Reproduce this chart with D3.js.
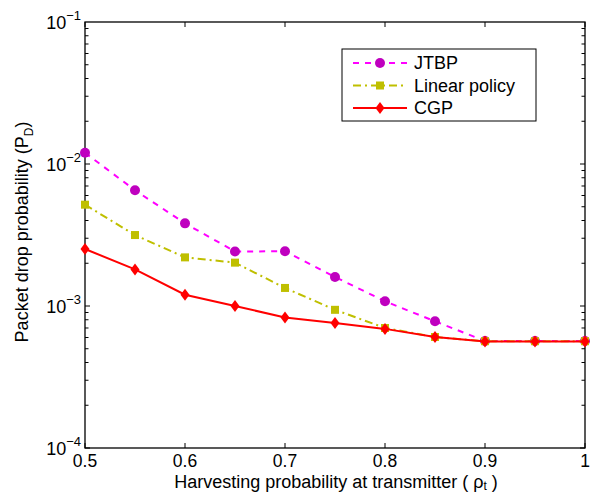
<!DOCTYPE html>
<html><head><meta charset="utf-8">
<script src="https://cdn.jsdelivr.net/npm/d3@7"></script>
<style>body{margin:0;background:#fff}svg{display:block}text{font-family:"Liberation Sans",Arial,sans-serif}</style>
</head><body>
<svg id="c" width="592" height="494"></svg>
<script>
const xValues = [0.5,0.55,0.6,0.65,0.7,0.75,0.8,0.85,0.9,0.95,1.0];
const jtbp   = [0.0120,0.00653,0.00382,0.00242,0.00243,0.00160,0.00108,0.00078,0.000567,0.000567,0.000567];
const linear = [0.00517,0.00316,0.00220,0.00202,0.00134,0.00094,0.00070,0.000605,0.000565,0.000565,0.000565];
const cgp    = [0.00252,0.00181,0.00120,0.00100,0.00083,0.00076,0.00069,0.000605,0.000562,0.000562,0.000562];
const xTicks = [0.5,0.6,0.7,0.8,0.9,1];
const xTickLabels = ["0.5","0.6","0.7","0.8","0.9","1"];
const yDecades = [-4,-3,-2,-1];
const seriesNames = ["JTBP","Linear policy","CGP"];

const svg = d3.select("#c");
const L=85,R=585,T=22,B=448;
const x = d3.scaleLinear().domain([0.5,1]).range([L,R]);
const y = d3.scaleLog().domain([1e-4,1e-1]).range([B,T]);

const g = svg.append("g");
g.append("rect").attr("x",L).attr("y",T).attr("width",R-L).attr("height",B-T)
  .attr("fill","none").attr("stroke","#000").attr("stroke-width",1.3);

const tk = g.append("g").attr("stroke","#000").attr("stroke-width",1);
xTicks.forEach(v=>{
  tk.append("line").attr("x1",x(v)).attr("x2",x(v)).attr("y1",B).attr("y2",B-5);
  tk.append("line").attr("x1",x(v)).attr("x2",x(v)).attr("y1",T).attr("y2",T+5);
});
for(let d=-4; d<-1; d++){
  for(let m=1;m<10;m++){
    const v = m*Math.pow(10,d);
    const len = m===1?5:3.5;
    tk.append("line").attr("x1",L).attr("x2",L+len).attr("y1",y(v)).attr("y2",y(v));
    tk.append("line").attr("x1",R).attr("x2",R-len).attr("y1",y(v)).attr("y2",y(v));
  }
}
xTicks.forEach((v,i)=>{
  g.append("text").attr("x",x(v)).attr("y",467).attr("text-anchor","middle")
   .attr("font-size",17.5).text(xTickLabels[i]);
});
yDecades.forEach(d=>{
  const t = g.append("text").attr("x",81).attr("y",y(Math.pow(10,d))+7).attr("text-anchor","end").attr("font-size",18);
  t.append("tspan").text("10");
  t.append("tspan").attr("dy",-9).attr("font-size",13).text("\u2212"+(-d));
});
const xt = g.append("text").attr("x",336).attr("y",488).attr("text-anchor","middle").attr("font-size",18);
xt.append("tspan").text("Harvesting probability at transmitter ( \u03c1");
xt.append("tspan").attr("dy",2).attr("font-size",12).text("t");
xt.append("tspan").attr("dy",-2).text(" )");
const yt = g.append("text").attr("transform","translate(28,232) rotate(-90)").attr("text-anchor","middle").attr("font-size",18);
yt.append("tspan").text("Packet drop probability (P");
yt.append("tspan").attr("dy",5).attr("font-size",12).text("D");
yt.append("tspan").attr("dy",-5).text(")");

const line = d3.line().x(d=>x(d[0])).y(d=>y(d[1]));
const styles = [
  {data:jtbp, stroke:"#ff00ff", dash:"6,6", mark:"circle", fill:"#bf00bf"},
  {data:linear, stroke:"#bfbf00", dash:"8,4,2,4", mark:"square", fill:"#bfbf00"},
  {data:cgp, stroke:"#ff0000", dash:null, mark:"diamond", fill:"#ff0000"}
];
function drawMarker(sel, type, cx, cy, fill){
  if(type==="circle") sel.append("circle").attr("cx",cx).attr("cy",cy).attr("r",5).attr("fill",fill);
  else if(type==="square") sel.append("rect").attr("x",cx-4).attr("y",cy-4).attr("width",8).attr("height",8).attr("fill",fill);
  else sel.append("path").attr("d",`M${cx},${cy-6}L${cx+4.5},${cy}L${cx},${cy+6}L${cx-4.5},${cy}Z`).attr("fill",fill);
}
styles.forEach(s=>{
  const pts = xValues.map((v,i)=>[v,s.data[i]]);
  g.append("path").attr("d",line(pts)).attr("fill","none").attr("stroke",s.stroke)
   .attr("stroke-width",2).attr("stroke-dasharray",s.dash);
  pts.forEach(p=>drawMarker(g,s.mark,x(p[0]),y(p[1]),s.fill));
});

const lg = g.append("g");
lg.append("rect").attr("x",342).attr("y",49).attr("width",194).attr("height",72)
  .attr("fill","#fff").attr("stroke","#000").attr("stroke-width",1);
const ly = [63,85.5,108];
styles.forEach((s,i)=>{
  lg.append("line").attr("x1",353).attr("x2",407).attr("y1",ly[i]).attr("y2",ly[i])
    .attr("stroke",s.stroke).attr("stroke-width",2).attr("stroke-dasharray",s.dash);
  drawMarker(lg,s.mark,380,ly[i],s.fill);
  lg.append("text").attr("x",414).attr("y",ly[i]+6).attr("font-size",18).text(seriesNames[i]);
});
</script>
</body></html>
